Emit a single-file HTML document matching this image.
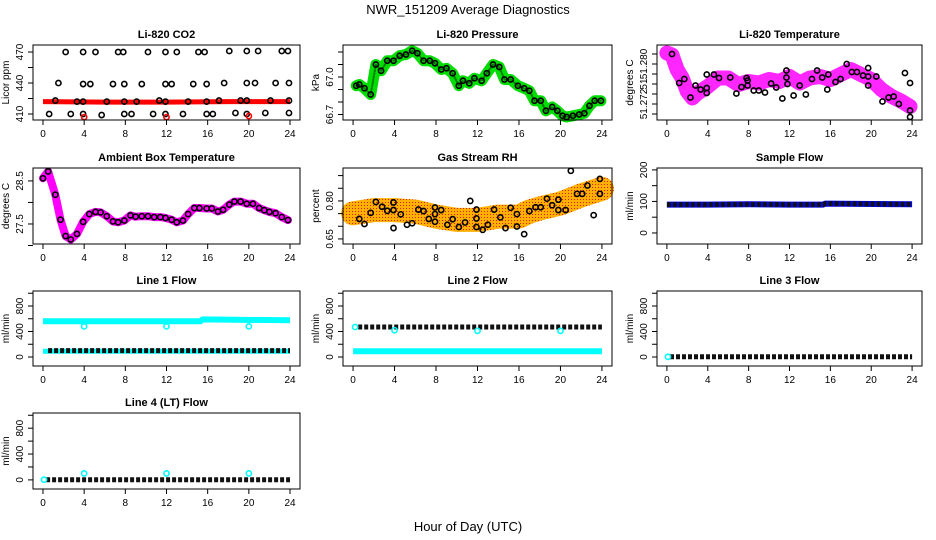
<!DOCTYPE html>
<html><head><meta charset="utf-8"><style>
html,body{margin:0;padding:0;background:#fff;}
svg{display:block;font-family:"Liberation Sans",Arial,sans-serif;}
</style></head><body>
<svg id="c" width="936" height="540" viewBox="0 0 936 540">
<defs>
<pattern id="rhpat" width="3" height="3" patternUnits="userSpaceOnUse"><rect width="3" height="3" fill="#ffb000"/><rect x="1" y="1" width="1" height="1" fill="#e02000"/></pattern>
</defs>
<text x="468" y="14" text-anchor="middle" font-size="13">NWR_151209  Average Diagnostics</text>
<text x="468" y="531" text-anchor="middle" font-size="13">Hour of Day (UTC)</text>
</svg>
<script>
// ---------- data ----------
const xTicks=[0,4,8,12,16,20,24];
// CO2
const co2BandH=[0,6,12,18,24];
const co2BandV=[422,421.5,421.5,422,422];
const co2BlackH=[0.6,1.2,1.5,2.2,2.7,3.3,3.9,3.9,3.9,3.9,4.6,5.1,5.7,6.2,6.8,7.3,7.8,7.9,7.9,7.9,8.6,9.1,9.6,10.2,10.7,11.3,11.9,11.9,11.9,11.9,12.5,13.0,13.6,14.1,14.6,15.1,15.7,15.9,15.9,15.9,16.5,17.1,17.6,18.1,18.7,19.2,19.8,19.8,19.8,19.8,20.6,20.9,21.6,22.1,22.6,23.2,23.8,23.9,23.9,23.9];
const co2BlackV=[410,423,440,470,410,422,470,439,410,422,439,470,409,422,439,470,470,439,422,410,410,422,439,470,410,423,470,439,422,410,439,470,410,422,439,470,470,439,422,410,410,423,440,471,411,423,471,440,423,410,440,471,411,423,440,471,471,440,423,411];
const co2RedH=[4,12,20];
const co2RedV=[407,407,408];
// Pressure
const presH=[0.3,0.6,1.1,1.7,2.2,2.7,3.3,3.9,4.5,5.1,5.7,6.2,6.8,7.4,7.9,8.5,9.0,9.6,10.2,10.6,11.2,11.7,12.4,12.9,13.5,14.1,14.6,15.2,15.9,16.5,17.0,17.5,18.1,18.6,19.2,19.7,20.2,20.6,21.2,21.8,22.3,22.8,23.3,23.9];
const presV=[66.93,66.94,66.91,66.86,67.10,67.05,67.13,67.13,67.17,67.18,67.21,67.19,67.13,67.13,67.11,67.06,67.07,67.03,66.93,66.97,66.95,66.99,66.97,67.03,67.10,67.08,66.98,66.98,66.93,66.91,66.89,66.81,66.81,66.73,66.76,66.73,66.69,66.68,66.69,66.70,66.71,66.77,66.81,66.81];
// Li-820 temperature
const tempBandH=[0,0.5,1,1.5,2,2.5,3,4,5,6,7,8,9,10,11,12,13,14,15,16,17,18,19,20,21,22,23,23.8];
const tempBandV=[51.2822,51.2818,51.2789,51.2772,51.2745,51.2732,51.2742,51.2755,51.2772,51.2772,51.2759,51.2765,51.2762,51.2769,51.2765,51.2775,51.2762,51.2772,51.2775,51.2769,51.2779,51.2789,51.2779,51.2769,51.2749,51.2735,51.2725,51.2715];
const tempBlackH=[0.5,1.2,1.7,2.3,2.8,3.3,3.9,3.9,3.9,4.6,5.1,6.2,6.8,7.3,7.8,7.9,7.9,8.5,9.0,9.6,10.2,10.7,11.3,11.7,11.7,11.8,12.4,13.0,13.6,14.2,14.7,15.2,15.7,15.8,16.5,17.0,17.6,18.1,18.6,19.2,19.7,19.7,19.7,20.5,21.1,21.7,22.2,22.7,23.3,23.8,23.8,23.8];
const tempBlackV=[51.2820,51.2762,51.2770,51.2733,51.2757,51.2749,51.2752,51.2742,51.2779,51.2779,51.2772,51.2773,51.2741,51.2754,51.2772,51.2767,51.2757,51.2747,51.2747,51.2743,51.2761,51.2753,51.2731,51.2787,51.2773,51.2760,51.2737,51.2757,51.2739,51.2770,51.2787,51.2773,51.2749,51.2779,51.2764,51.2770,51.2800,51.2784,51.2784,51.2777,51.2792,51.2775,51.2757,51.2775,51.2725,51.2733,51.2735,51.2720,51.2782,51.2762,51.2707,51.2694];
// Ambient box temperature
const ambH=[0,0.5,1.2,1.7,2.2,2.7,3.3,3.9,4.5,5.1,5.6,6.2,6.8,7.3,7.9,8.5,9.0,9.6,10.2,10.8,11.4,11.9,12.5,13.0,13.6,14.1,14.7,15.2,15.9,16.4,17.0,17.5,18.1,18.6,19.2,19.8,20.4,21.0,21.5,22.0,22.6,23.2,23.8];
const ambV=[28.56,28.72,28.18,27.60,27.22,27.14,27.27,27.55,27.73,27.78,27.77,27.68,27.56,27.54,27.58,27.70,27.67,27.68,27.68,27.66,27.66,27.64,27.60,27.54,27.58,27.73,27.87,27.87,27.86,27.86,27.79,27.83,27.95,28.02,28.02,27.97,27.97,27.87,27.82,27.78,27.75,27.66,27.59];
// Gas stream RH
const rhBandH=[0,2,4,6,8,10,12,14,16,17,18,20,22,24];
const rhBandV=[0.751,0.764,0.764,0.758,0.738,0.725,0.725,0.738,0.738,0.758,0.770,0.790,0.822,0.848];
const rhBlackH=[0.6,1.1,1.7,2.2,2.8,3.3,3.9,3.9,3.9,4.6,5.2,5.7,6.3,6.8,7.3,7.9,7.9,7.9,8.5,9.1,9.6,10.2,10.8,11.3,11.9,11.9,11.9,12.5,13.0,13.6,14.2,14.7,15.2,15.8,15.8,16.5,17.0,17.6,18.1,18.7,19.2,19.8,19.8,20.5,21.0,21.6,22.1,22.6,23.2,23.8,23.8];
const rhBlackV=[0.729,0.709,0.753,0.796,0.777,0.761,0.794,0.764,0.693,0.747,0.706,0.712,0.766,0.760,0.729,0.774,0.748,0.718,0.764,0.706,0.728,0.697,0.715,0.800,0.766,0.731,0.697,0.686,0.706,0.766,0.735,0.693,0.773,0.748,0.699,0.669,0.760,0.775,0.775,0.809,0.783,0.805,0.764,0.764,0.919,0.828,0.828,0.861,0.744,0.887,0.828];
// Sample flow
const sampH=[0,4,8,12,15.3,15.5,24];
const sampV=[90,90,91,90,90,93,91];
// Line flows
const l1CyanH=[0,15.3,15.5,24];
const l1CyanV=[560,560,590,575];
const l1BlackH=[0.5,24];
const l1BlackV=[100,100];
const l1DipH=[4,12,20];
const l1DipV=[480,480,480];
const l2BlackH=[0.5,24];
const l2BlackV=[470,470];
const l2CyanH=[0,24];
const l2CyanV=[90,90];
const l2DipH=[0.2,4,12,20];
const l2DipV=[470,420,410,410];
const l3H=[0.3,24];
const l3V=[3,3];
const l4H=[0.3,24];
const l4V=[3,3];
const l4DipH=[4,12,20];
const l4DipV=[100,100,100];

// ---------- layout ----------
const svg=document.getElementById('c');
const NS='http://www.w3.org/2000/svg';
const cols=[{l:33,r:300},{l:343,r:612},{l:657,r:922}];
const rows=[{t:45,b:120},{t:168,b:244},{t:291,b:366},{t:413,b:489}];
function mk(tag,attrs,parent){const e=document.createElementNS(NS,tag);for(const k in attrs)e.setAttribute(k,attrs[k]);(parent||svg).appendChild(e);return e;}
function panel(ci,ri,ymin,ymax,title,ylab,yTicks,yLabels,name){
  const c=cols[ci],r=rows[ri];
  const g=mk('g',{});
  
  
  const X=h=>c.l+(h+0.97)/(25.94)*(c.r-c.l);
  const Y=v=>r.b-(v-ymin)/(ymax-ymin)*(r.b-r.t);
  const plot=mk('g',{},g);
  
  
  const box=mk('rect',{x:c.l,y:r.t,width:c.r-c.l,height:r.b-r.t,fill:'none',stroke:'#000','stroke-width':1},g);
  
  
  const t=mk('text',{x:(c.l+c.r)/2,y:r.t-7,'text-anchor':'middle','font-size':11,'font-weight':'bold'},g);
  t.textContent=title;
  
  
  xTicks.forEach(h=>{
    mk('line',{x1:X(h),x2:X(h),y1:r.b,y2:r.b+5,stroke:'#000'},g);
    const tl=mk('text',{x:X(h),y:r.b+17,'text-anchor':'middle','font-size':10},g);
    tl.textContent=h;
    
    
  });
  yTicks.forEach((v,i)=>{
    mk('line',{x1:c.l-5,x2:c.l,y1:Y(v),y2:Y(v),stroke:'#000'},g);
    if(yLabels[i]){const yy=Y(v);
      const tl=mk('text',{x:c.l-10,y:yy,'text-anchor':'middle','font-size':10,transform:`rotate(-90 ${c.l-10} ${yy})`},g);
      tl.textContent=yLabels[i];
      
      }
  });
  const yl=mk('text',{x:c.l-24,y:(r.t+r.b)/2,'text-anchor':'middle','font-size':10,transform:`rotate(-90 ${c.l-24} ${(r.t+r.b)/2})`},g);
  yl.textContent=ylab;
  
  
  return {X,Y,g:plot};
}
function band(p,H,V,color,w,extra){
  const pts=H.map((h,i)=>p.X(h).toFixed(1)+','+p.Y(V[i]).toFixed(1)).join(' ');
  const e=mk('polyline',Object.assign({points:pts,fill:'none',stroke:color,'stroke-width':w,'stroke-linejoin':'round','stroke-linecap':'round'},extra||{}),p.g);
  
  
}
function circles(p,H,V,color,rad,sw){
  H.forEach((h,i)=>{
    const e=mk('circle',{cx:p.X(h),cy:p.Y(V[i]),r:rad||2.6,fill:'none',stroke:color,'stroke-width':sw||1.6},p.g);
    
    
  });
}
// CO2
let p=panel(0,0,404.2,476.8,'Li-820 CO2','Licor ppm',[410,425,440,455,470],['410','','440','','470'],'co2-panel');
band(p,co2BandH,co2BandV,'#ff0000',5,{'stroke-linecap':'butt'});
circles(p,co2BlackH,co2BlackV,'#000');
circles(p,co2RedH,co2RedV,'#ff0000');
// Pressure
p=panel(1,0,66.656,67.256,'Li-820 Pressure','kPa',[66.7,66.8,66.9,67.0,67.1,67.2],['66.7','','','67.0','',''],'pressure-panel');
band(p,presH,presV,'#00dd00',11);
band(p,presH,presV,'#007700',2,{'stroke-dasharray':'1,2'});
circles(p,presH,presV,'#000');
// Temperature
p=panel(2,0,51.2688,51.2838,'Li-820 Temperature','degrees C',[51.270,51.272,51.274,51.276,51.278,51.280,51.282],['','51.272','','51','','51.280',''],'li820-temp-panel');
band(p,tempBandH,tempBandV,'#ff00ff',15,{opacity:0.85});
circles(p,tempBlackH,tempBlackV,'#000');
// Ambient
p=panel(0,1,27.035,28.80,'Ambient Box Temperature','degrees C',[27.0,27.5,28.0,28.5],['','27.5','','28.5'],'ambient-temp-panel');
band(p,ambH,ambV,'#ff00ff',8);
circles(p,ambH,ambV,'#000');
// RH
p=panel(1,1,0.630,0.930,'Gas Stream RH','percent',[0.65,0.70,0.75,0.80,0.85,0.90],['0.65','','','0.80','',''],'rh-panel');
band(p,rhBandH,rhBandV,'url(#rhpat)',24);
circles(p,rhBlackH,rhBlackV,'#000');
// Sample flow
p=panel(2,1,-35,206,'Sample Flow','ml/min',[0,50,100,150,200],['0','','100','','200'],'sample-flow-panel');
band(p,sampH,sampV,'#0000ff',6,{'stroke-linecap':'butt'});
band(p,sampH,sampV,'#111',5,{'stroke-dasharray':'4,2','stroke-linecap':'butt'});
// Line flows
const fT=[0,200,400,600,800,1000], fL=['0','','400','','800',''];
p=panel(0,2,-141,1035,'Line 1 Flow','ml/min',fT,fL,'line1-flow-panel');
band(p,l1CyanH,l1CyanV,'#00ffff',6,{'stroke-linecap':'butt'});
band(p,[0,24],[90,90],'#00ffff',5,{'stroke-linecap':'butt'});
band(p,l1BlackH,l1BlackV,'#111',5,{'stroke-dasharray':'4,2','stroke-linecap':'butt'});
circles(p,l1DipH,l1DipV,'#00ffff');
p=panel(1,2,-141,1035,'Line 2 Flow','ml/min',fT,fL,'line2-flow-panel');
band(p,l2CyanH,l2CyanV,'#00ffff',6,{'stroke-linecap':'butt'});
band(p,l2BlackH,l2BlackV,'#111',5,{'stroke-dasharray':'4,2','stroke-linecap':'butt'});
circles(p,l2DipH,l2DipV,'#00ffff');
p=panel(2,2,-141,1035,'Line 3 Flow','ml/min',fT,fL,'line3-flow-panel');
band(p,l3H,l3V,'#111',5,{'stroke-dasharray':'4,2','stroke-linecap':'butt'});
circles(p,[0.1],[3],'#00ffff');
p=panel(0,3,-141,1035,'Line 4 (LT) Flow','ml/min',fT,fL,'line4-flow-panel');
band(p,l4H,l4V,'#111',5,{'stroke-dasharray':'4,2','stroke-linecap':'butt'});
circles(p,[0.1],[3],'#00ffff');
circles(p,l4DipH,l4DipV,'#00ffff');
</script>
</body></html>
